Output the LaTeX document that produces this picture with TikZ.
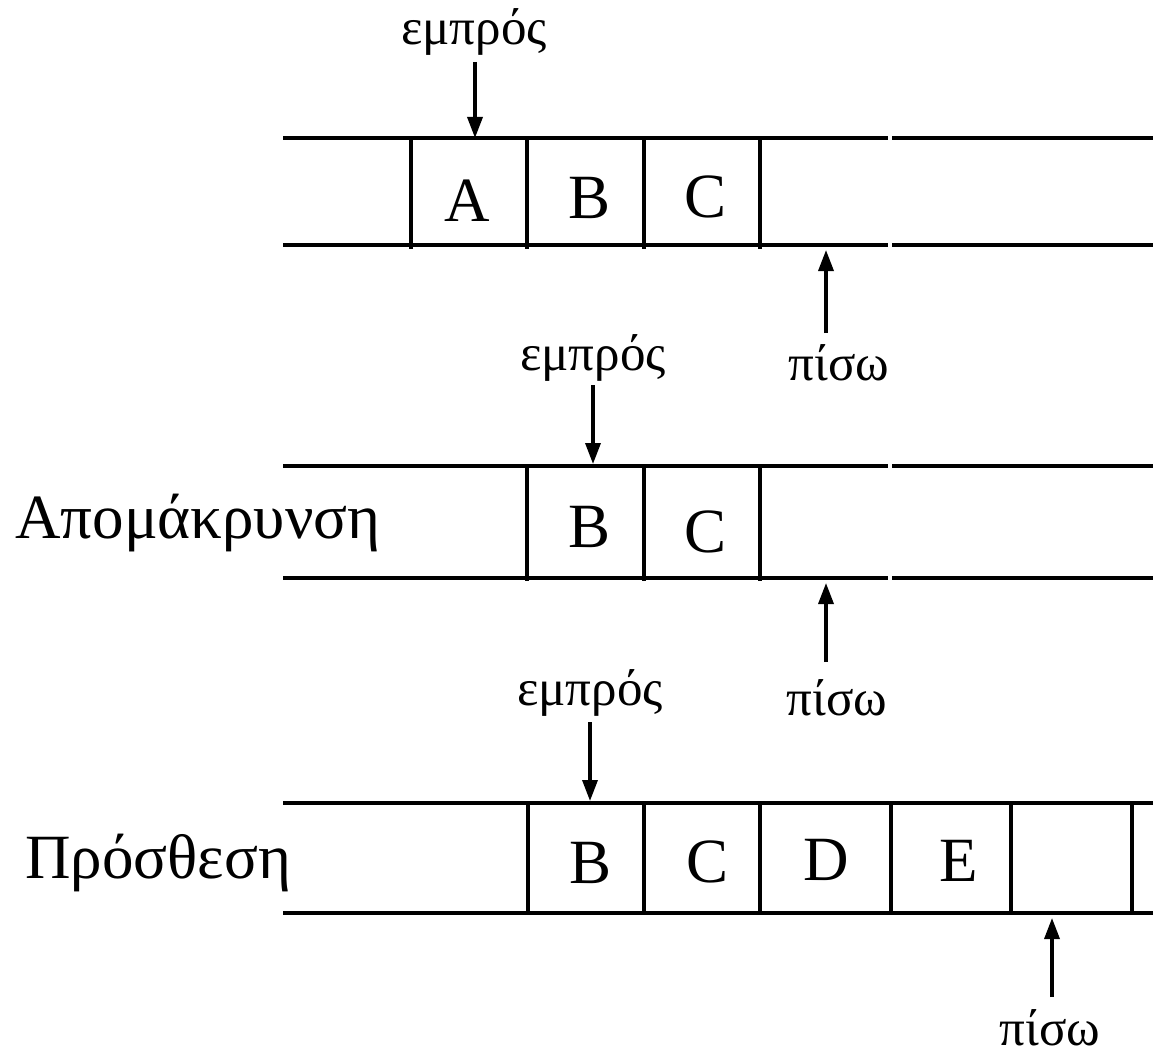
\documentclass[tikz,border=0pt]{standalone}
\usepackage{fontspec}
\setmainfont{Liberation Serif}
\usetikzlibrary{arrows.meta}
\begin{document}
\begin{tikzpicture}[x=1pt,y=-1pt,
  rail/.style={line width=4pt},
  sepline/.style={line width=3.6pt},
  ptr/.style={line width=3.4pt,-{Triangle[width=15pt,length=21pt]}},
  cell/.style={font=\fontsize{63}{63}\selectfont, inner sep=0pt, anchor=base},
  lab/.style={font=\fontsize{51}{51}\selectfont, inner sep=0pt, anchor=base},
  ttl/.style={font=\fontsize{63}{63}\selectfont, inner sep=0pt, anchor=base west}]
\useasboundingbox (0,0) rectangle (1153,1054);

% ---------- Row 1 ----------
\draw[rail] (283,138) -- (888,138);
\draw[rail] (892,138) -- (1153,138);
\draw[rail] (283,245) -- (888,245);
\draw[rail] (892,245) -- (1153,245);
\foreach \x in {411,527,644,760} \draw[sepline] (\x,138) -- (\x,249);
\node[cell] (a1) at (467,221) {A};
\node[cell] (b1) at (590,218) {B};
\node[cell] (c1) at (706,217) {C};
\node[lab] (f1) at (474,45) {εμπρός};
\coordinate (f1s) at (475,62);
\coordinate (f1e) at (475,138);
\draw[ptr] (f1s) -- (f1e);
\node[lab] (r1) at (839,380) {πίσω};
\coordinate (r1s) at (826,333);
\coordinate (r1e) at (826,250);
\draw[ptr] (r1s) -- (r1e);

% ---------- Row 2 ----------
\node[ttl] (t2) at (15,538) {Απομάκρυνση};
\draw[rail] (283,466) -- (888,466);
\draw[rail] (892,466) -- (1153,466);
\draw[rail] (283,578) -- (888,578);
\draw[rail] (892,578) -- (1153,578);
\foreach \x in {527,644,760} \draw[sepline] (\x,466) -- (\x,581);
\node[cell] (b2) at (590,547) {B};
\node[cell] (c2) at (706,552) {C};
\node[lab] (f2) at (593,370) {εμπρός};
\coordinate (f2s) at (593,385);
\coordinate (f2e) at (593,464);
\draw[ptr] (f2s) -- (f2e);
\node[lab] (r2) at (837,715) {πίσω};
\coordinate (r2s) at (826,662);
\coordinate (r2e) at (826,583);
\draw[ptr] (r2s) -- (r2e);

% ---------- Row 3 ----------
\node[ttl] (t3) at (25,878) {Πρόσθεση};
\draw[rail] (283,803) -- (1153,803);
\draw[rail] (283,913) -- (1153,913);
\foreach \x in {528,644,760,891,1011,1132} \draw[sepline] (\x,803) -- (\x,913);
\node[cell] (b3) at (591,883) {B};
\node[cell] (c3) at (707,882) {C};
\node[cell] (d3) at (826,880) {D};
\node[cell] (e3) at (959,881) {E};
\node[lab] (f3) at (590,705) {εμπρός};
\coordinate (f3s) at (590,722);
\coordinate (f3e) at (590,801);
\draw[ptr] (f3s) -- (f3e);
\node[lab] (r3) at (1050,1045) {πίσω};
\coordinate (r3s) at (1052,997);
\coordinate (r3e) at (1052,918);
\draw[ptr] (r3s) -- (r3e);
\end{tikzpicture}
\end{document}
